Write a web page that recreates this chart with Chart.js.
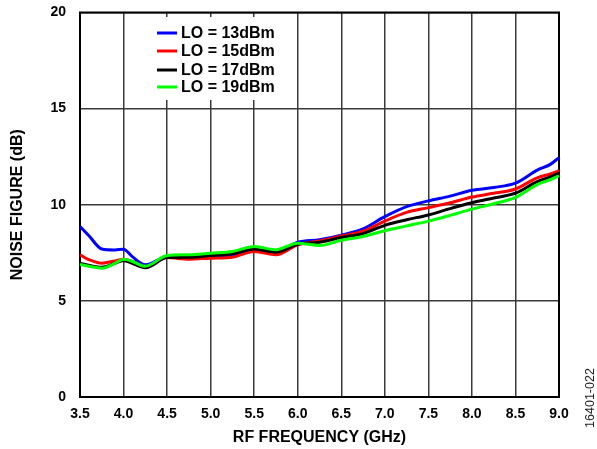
<!DOCTYPE html>
<html>
<head>
<meta charset="utf-8">
<script src="https://cdn.jsdelivr.net/npm/chart.js@4.4.0/dist/chart.umd.min.js"></script>
<style>
  html, body { margin: 0; padding: 0; background: #fff; }
  #wrap { width: 597px; height: 449px; }
</style>
</head>
<body>
<div id="wrap"><canvas id="c" width="597" height="449"></canvas></div>
<script>
const freqGHz = [3.5, 3.6, 3.75, 3.9, 4.0, 4.1, 4.25, 4.5, 4.75, 5.0, 5.25, 5.5, 5.75, 6.0, 6.25, 6.5, 6.75, 7.0, 7.25, 7.5, 7.75, 8.0, 8.25, 8.5, 8.75, 8.9, 9.0];
const nfLO13 = [8.87, 8.4, 7.7, 7.65, 7.69, 7.3, 6.88, 7.3, 7.28, 7.3, 7.35, 7.65, 7.53, 8.05, 8.18, 8.42, 8.75, 9.38, 9.9, 10.2, 10.45, 10.75, 10.9, 11.12, 11.8, 12.1, 12.45];
const nfLO15 = [7.4, 7.15, 6.96, 7.08, 7.17, 7.05, 6.75, 7.25, 7.17, 7.22, 7.27, 7.57, 7.4, 7.92, 8.12, 8.37, 8.62, 9.15, 9.6, 9.85, 10.1, 10.4, 10.6, 10.82, 11.4, 11.6, 11.77];
const nfLO17 = [6.95, 6.85, 6.75, 6.95, 7.1, 6.95, 6.72, 7.25, 7.27, 7.36, 7.45, 7.7, 7.53, 7.95, 8.05, 8.3, 8.5, 8.93, 9.22, 9.47, 9.8, 10.1, 10.35, 10.6, 11.2, 11.45, 11.65];
const nfLO19 = [6.9, 6.8, 6.7, 6.95, 7.17, 7.05, 6.8, 7.36, 7.4, 7.48, 7.57, 7.83, 7.66, 8.0, 7.88, 8.15, 8.35, 8.65, 8.9, 9.15, 9.45, 9.77, 10.05, 10.38, 11.05, 11.3, 11.5];
const seriesLabels = ['LO = 13dBm', 'LO = 15dBm', 'LO = 17dBm', 'LO = 19dBm'];
const xTicks = [3.5, 4.0, 4.5, 5.0, 5.5, 6.0, 6.5, 7.0, 7.5, 8.0, 8.5, 9.0];
const yTicks = [0, 5, 10, 15, 20];

const colors = ['#0000ff', '#ff0000', '#000000', '#00ff00'];
const allSeries = [nfLO13, nfLO15, nfLO17, nfLO19];
const FONT = '"Liberation Sans", Arial, Helvetica, sans-serif';

const datasets = allSeries.map((vals, i) => ({
  label: seriesLabels[i],
  data: freqGHz.map((f, j) => ({ x: f, y: vals[j] })),
  borderColor: colors[i],
  backgroundColor: colors[i],
  borderWidth: 3,
  pointRadius: 0,
  fill: false,
  cubicInterpolationMode: 'monotone',
  order: 3 - i
}));

const frameAndLegend = {
  id: 'frameAndLegend',
  beforeDatasetsDraw(chart) {
    const { ctx, chartArea: a } = chart;
    ctx.save();
    ctx.fillStyle = '#ffffff';
    ctx.fillRect(a.left + 50, a.top + 4.5, 165, 83);
    ctx.strokeStyle = '#000';
    ctx.lineWidth = 2;
    ctx.strokeRect(a.left, a.top, a.right - a.left, a.bottom - a.top);
    ctx.restore();
  },
  afterDatasetsDraw(chart) {
    const { ctx, chartArea: a } = chart;
    ctx.save();
    ctx.font = 'bold 16px ' + FONT;
    ctx.textBaseline = 'middle';
    ctx.textAlign = 'left';
    const rowY = [33, 51, 70, 87];
    chart.data.datasets.forEach((ds, i) => {
      const y = rowY[i];
      ctx.strokeStyle = ds.borderColor;
      ctx.lineWidth = 3;
      ctx.beginPath();
      ctx.moveTo(a.left + 77, y);
      ctx.lineTo(a.left + 97, y);
      ctx.stroke();
      ctx.fillStyle = '#000';
      ctx.fillText(ds.label, a.left + 101, y + 0.5);
    });
    ctx.restore();
  },
  afterDraw(chart) {
    const { ctx } = chart;
    ctx.save();
    ctx.translate(591, 398);
    ctx.rotate(-Math.PI / 2);
    ctx.font = '12.5px ' + FONT;
    ctx.fillStyle = '#222';
    ctx.textAlign = 'center';
    ctx.textBaseline = 'middle';
    ctx.fillText('16401-022', 0, 0);
    ctx.restore();
  }
};

new Chart(document.getElementById('c'), {
  type: 'line',
  data: { datasets },
  options: {
    responsive: false,
    animation: false,
    devicePixelRatio: 1,
    layout: { padding: { left: 0, right: 38, top: 12.5, bottom: 0 } },
    plugins: { legend: { display: false }, tooltip: { enabled: false } },
    scales: {
      x: {
        type: 'linear',
        min: 3.5, max: 9.0,
        afterBuildTicks: (s) => { s.ticks = xTicks.map(v => ({ value: v })); },
        afterFit: (s) => { s.height = 52; s.paddingLeft = 0; s.paddingRight = 0; },
        ticks: {
          color: '#000',
          font: { family: FONT, size: 14, weight: 'bold' },
          padding: 9,
          maxRotation: 0,
          autoSkip: false,
          callback: (v) => Number(v).toFixed(1)
        },
        grid: { color: '#3a3a3a', lineWidth: 1.5, drawTicks: false },
        border: { display: true, color: '#000', width: 2 },
        title: {
          display: true,
          text: 'RF FREQUENCY (GHz)',
          color: '#000',
          font: { family: FONT, size: 16, weight: 'bold' },
          padding: { top: 0, bottom: 1.5 }
        }
      },
      y: {
        type: 'linear',
        min: 0, max: 20,
        afterBuildTicks: (s) => { s.ticks = yTicks.map(v => ({ value: v })); },
        afterFit: (s) => { s.width = 80; s.paddingTop = 0; s.paddingBottom = 0; },
        ticks: {
          color: '#000',
          font: { family: FONT, size: 14, weight: 'bold' },
          padding: 14
        },
        grid: { color: '#3a3a3a', lineWidth: 1.5, drawTicks: false },
        border: { display: true, color: '#000', width: 2 },
        title: {
          display: true,
          text: 'NOISE FIGURE (dB)',
          color: '#000',
          font: { family: FONT, size: 16, weight: 'bold' },
          padding: { top: 7.5, bottom: 0 }
        }
      }
    }
  },
  plugins: [frameAndLegend]
});
</script>
</body>
</html>
